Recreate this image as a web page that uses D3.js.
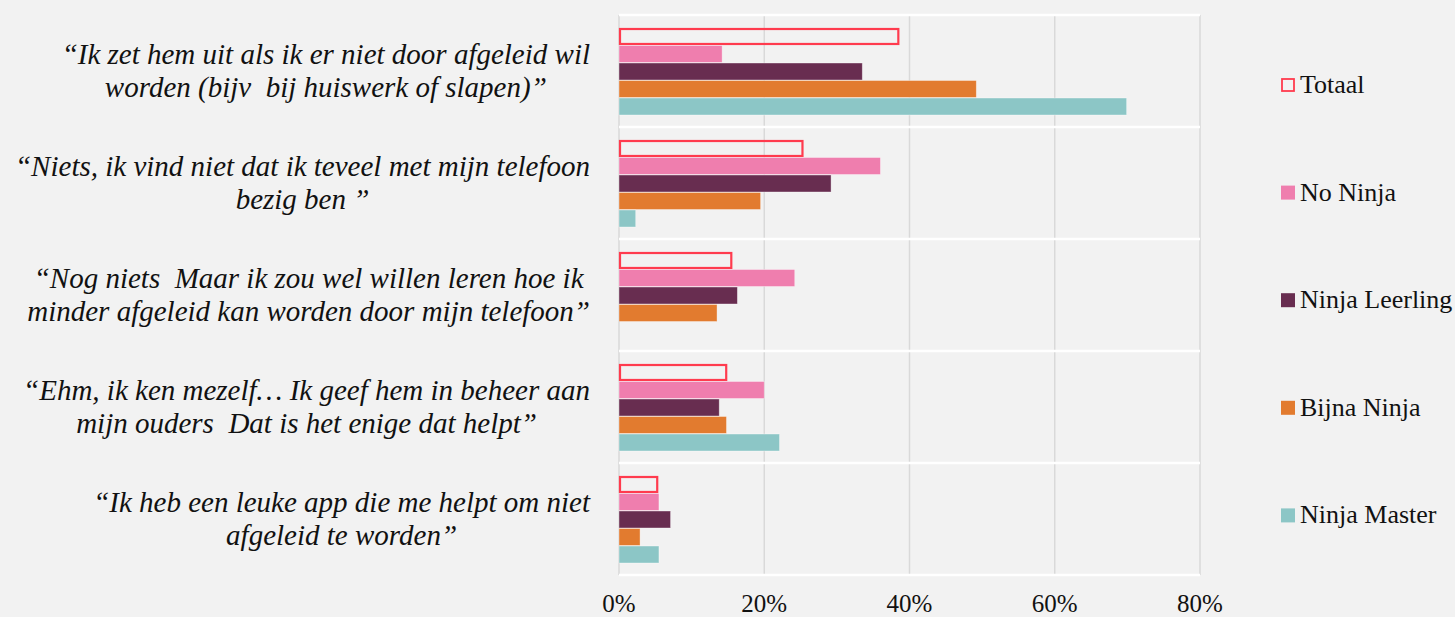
<!DOCTYPE html>
<html>
<head>
<meta charset="utf-8">
<script src="https://cdn.jsdelivr.net/npm/d3@7"></script>
<style>
  body { margin: 0; background: #f2f2f2; }
  svg { display: block; }
  text { white-space: pre; }
</style>
</head>
<body>
<svg id="chart" width="1455" height="617"></svg>
<script>
// categories, each one a list of text lines
const categories = [
  ["\u201cIk zet hem uit als ik er niet door afgeleid wil", "worden (bijv  bij huiswerk of slapen)\u201d"],
  ["\u201cNiets, ik vind niet dat ik teveel met mijn telefoon", "bezig ben \u201d"],
  ["\u201cNog niets  Maar ik zou wel willen leren hoe ik", "minder afgeleid kan worden door mijn telefoon\u201d"],
  ["\u201cEhm, ik ken mezelf\u2026 Ik geef hem in beheer aan", "mijn ouders  Dat is het enige dat helpt\u201d"],
  ["\u201cIk heb een leuke app die me helpt om niet", "afgeleid te worden\u201d"]
];
const seriesNames = ["Totaal", "No Ninja", "Ninja Leerling", "Bijna Ninja", "Ninja Master"];
const totaal = [0.386, 0.254, 0.156, 0.149, 0.054];
const noNinja = [0.142, 0.360, 0.242, 0.200, 0.055];
const ninjaLeerling = [0.335, 0.292, 0.163, 0.138, 0.071];
const bijnaNinja = [0.492, 0.195, 0.135, 0.148, 0.029];
const ninjaMaster = [0.699, 0.023, 0, 0.221, 0.055];
const xTicks = [0, 0.2, 0.4, 0.6, 0.8];

const seriesValues = [totaal, noNinja, ninjaLeerling, bijnaNinja, ninjaMaster];
const colors = ["none", "#ef7eae", "#682d50", "#e27b2f", "#8cc6c6"];

const svg = d3.select("#chart");
const plot = { left: 619, right: 1200, top: 15, bottom: 575 };

const x = d3.scaleLinear().domain([0, 0.8]).range([plot.left, plot.right]);
const y0 = d3.scaleBand().domain(d3.range(categories.length)).range([plot.top, plot.bottom]);
const y1 = d3.scaleBand().domain(seriesNames).range([13, 100]).paddingInner(0.03);

// vertical gridlines
svg.append("g")
  .selectAll("line")
  .data(xTicks)
  .join("line")
  .attr("x1", d => x(d)).attr("x2", d => x(d))
  .attr("y1", plot.top).attr("y2", plot.bottom)
  .attr("stroke", "#d9d9d9")
  .attr("stroke-width", 1.5);

// white category separators
svg.append("g")
  .selectAll("line")
  .data(d3.range(categories.length + 1))
  .join("line")
  .attr("x1", plot.left).attr("x2", plot.right)
  .attr("y1", d => plot.top + d * y0.step()).attr("y2", d => plot.top + d * y0.step())
  .attr("stroke", "#ffffff")
  .attr("stroke-width", 2.5);

// bars
const groups = svg.append("g")
  .selectAll("g")
  .data(categories)
  .join("g")
  .attr("transform", (d, i) => `translate(0,${y0(i)})`);

groups.each(function(d, i) {
  const g = d3.select(this);
  seriesNames.forEach((name, s) => {
    const v = seriesValues[s][i];
    if (v <= 0) return;
    if (s === 0) {
      g.append("rect")
        .attr("x", x(0) + 1)
        .attr("y", y1(name) + 1)
        .attr("width", x(v) - x(0) - 2)
        .attr("height", y1.bandwidth() - 2)
        .attr("fill", "none")
        .attr("stroke", "#ff3b4e")
        .attr("stroke-width", 2.2);
    } else {
      g.append("rect")
        .attr("x", x(0))
        .attr("y", y1(name))
        .attr("width", x(v) - x(0))
        .attr("height", y1.bandwidth())
        .attr("fill", colors[s])
        .attr("stroke", "rgba(255,255,255,0.45)")
        .attr("stroke-width", 0.8);
    }
  });
});

// category labels: block right aligned, lines centred within the block
const labelFont = "'Liberation Serif', serif";
const labelRight = 590;
groups.each(function(lines, i) {
  const g = d3.select(this);
  const mid = y0.bandwidth() / 2;
  const lineH = 33;
  const t = g.append("text")
    .attr("font-family", labelFont)
    .attr("font-style", "italic")
    .attr("font-size", 29)
    .attr("fill", "#111")
    .attr("text-anchor", "middle");
  const spans = lines.map((ln, k) => t.append("tspan")
    .attr("y", mid + (k - (lines.length - 1) / 2) * lineH + 9)
    .text(ln));
  const w = d3.max(spans, s => s.node().getComputedTextLength());
  spans.forEach(s => s.attr("x", labelRight - w / 2));
});

// x axis labels
svg.append("g")
  .selectAll("text")
  .data(xTicks)
  .join("text")
  .attr("x", d => x(d))
  .attr("y", 612)
  .attr("text-anchor", "middle")
  .attr("font-family", labelFont)
  .attr("font-size", 25)
  .attr("fill", "#111")
  .text(d3.format(".0%"));

// legend
const legend = svg.append("g")
  .selectAll("g")
  .data(seriesNames)
  .join("g")
  .attr("transform", (d, i) => `translate(1281,${85 + i * 107.6})`);

legend.append("rect")
  .attr("x", (d, i) => i === 0 ? 1 : 0)
  .attr("y", (d, i) => i === 0 ? -6 : -7)
  .attr("width", (d, i) => i === 0 ? 12 : 14)
  .attr("height", (d, i) => i === 0 ? 12 : 14)
  .attr("fill", (d, i) => colors[i])
  .attr("stroke", (d, i) => i === 0 ? "#ff3b4e" : "none")
  .attr("stroke-width", 1.8);

legend.append("text")
  .attr("x", 19)
  .attr("y", 8)
  .attr("font-family", labelFont)
  .attr("font-size", 26)
  .attr("fill", "#111")
  .text(d => d);
</script>
</body>
</html>
